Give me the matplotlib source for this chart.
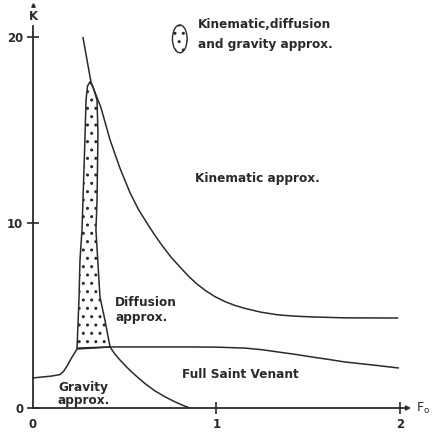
import matplotlib.pyplot as plt
from matplotlib.patches import Polygon, Ellipse

plt.rcParams['font.family'] = ['DejaVu Sans']
plt.rcParams['hatch.linewidth'] = 1.0

# Boundary between kinematic and diffusion regions
kin_F = [0.272, 0.316, 0.37, 0.42, 0.475, 0.529, 0.575, 0.621, 0.665, 0.708, 0.755, 0.801,
         0.85, 0.894, 0.94, 0.992, 1.05, 1.10, 1.155, 1.24, 1.335, 1.43, 1.52, 1.70, 1.99]
kin_K = [20.0, 17.57, 16.2, 14.45, 12.9, 11.6, 10.7, 9.97, 9.3, 8.7, 8.1, 7.6,
         7.08, 6.68, 6.33, 6.0, 5.72, 5.53, 5.37, 5.17, 5.02, 4.95, 4.91, 4.86, 4.85]

# Boundary of the full Saint Venant region (top)
sv_F = [0.0, 0.10, 0.147, 0.167, 0.185, 0.213, 0.24, 0.42, 0.883, 1.0, 1.155, 1.25, 1.335,
        1.43, 1.52, 1.61, 1.70, 1.85, 1.99]
sv_K = [1.62, 1.72, 1.80, 1.98, 2.25, 2.75, 3.18, 3.29, 3.29, 3.28, 3.23, 3.14, 3.02,
        2.89, 2.75, 2.62, 2.48, 2.32, 2.16]

# Gravity region boundary (right side)
grav_F = [0.42, 0.445, 0.474, 0.515, 0.556, 0.61, 0.665, 0.72, 0.774, 0.82, 0.856]
grav_K = [3.29, 2.92, 2.59, 2.16, 1.78, 1.32, 0.92, 0.60, 0.33, 0.13, 0.0]

# Dotted region: kinematic, diffusion and gravity approx.
loop_F = [0.24, 0.251, 0.256, 0.267, 0.283, 0.289, 0.297, 0.311, 0.327, 0.349, 0.354, 0.349,
          0.343, 0.365, 0.392, 0.42]
loop_K = [3.23, 5.98, 7.98, 9.6, 14.45, 16.6, 17.35, 17.6, 17.3, 16.6, 14.8, 11.2,
          9.6, 5.98, 4.74, 3.29]

x_ticks = [0, 1, 2]
y_ticks = [0, 10, 20]

ink = '#2a2a2a'
lw = 1.1

fig = plt.figure(figsize=(4.34, 4.32), dpi=100)
ax = fig.add_axes([0, 0, 1, 1])
ax.set_xlim(-0.1798, 2.1853)
ax.set_ylim(-1.294, 21.995)

ax.spines['top'].set_visible(False)
ax.spines['right'].set_visible(False)
ax.spines['left'].set_position(('data', 0))
ax.spines['bottom'].set_position(('data', 0))
ax.spines['left'].set_bounds(0, 20.6)
ax.spines['bottom'].set_bounds(0, 2.03)
for s in ['left', 'bottom']:
    ax.spines[s].set_linewidth(1.3)
    ax.spines[s].set_color(ink)

ax.set_xticks(x_ticks)
ax.set_yticks(y_ticks)
ax.set_xticklabels([str(v) for v in x_ticks], fontweight='bold', fontsize=8.5, color=ink)
ax.set_yticklabels([str(v) for v in y_ticks], fontweight='bold', fontsize=8.5, color=ink)
ax.tick_params(axis='x', direction='inout', length=8, width=1.2, pad=3, color=ink)
ax.tick_params(axis='y', direction='inout', length=8, width=1.2, pad=3, color=ink)
ax.xaxis.get_major_ticks()[0].tick1line.set_visible(False)

# axis arrows and labels
ax.annotate('', xy=(2.075, 0), xytext=(2.02, 0),
            arrowprops=dict(arrowstyle='-|>', color=ink, lw=1.0, mutation_scale=7))
ax.text(2.085, 0, r'F$_\mathregular{o}$', fontsize=9, color=ink, ha='left', va='center')
ax.text(0, 21.08, 'K', fontsize=8.5, fontweight='bold', color=ink, ha='center', va='center')
ax.plot([0], [21.75], marker='^', ms=2.5, color=ink, clip_on=False)

# dotted region
ax.add_patch(Polygon(list(zip(loop_F, loop_K)), closed=True, facecolor='none',
                     edgecolor=ink, linewidth=0, hatch='..'))
ax.add_patch(Polygon(list(zip(loop_F, loop_K)), closed=True, fill=False,
                     edgecolor=ink, linewidth=lw))

ax.plot(kin_F, kin_K, color=ink, lw=lw, solid_capstyle='butt')
ax.plot(sv_F, sv_K, color=ink, lw=lw)
ax.plot(grav_F, grav_K, color=ink, lw=lw)

# legend symbol
ax.add_patch(Ellipse((0.80, 19.9), 0.08, 1.5, facecolor='none',
                     edgecolor=ink, linewidth=0, hatch='..'))
ax.add_patch(Ellipse((0.80, 19.9), 0.08, 1.5, fill=False,
                     edgecolor=ink, linewidth=1.0))

tk = dict(fontsize=8.7, fontweight='bold', color=ink, ha='left', va='center')
ax.text(0.899, 20.65, 'Kinematic,diffusion', **tk)
ax.text(0.899, 19.62, 'and gravity approx.', **tk)
ax.text(0.883, 12.35, 'Kinematic approx.', **tk)
ax.text(0.447, 5.71, 'Diffusion', **tk)
ax.text(0.452, 4.9, 'approx.', **tk)
ax.text(0.136, 1.13, 'Gravity', **tk)
ax.text(0.136, 0.38, 'approx.', **tk)
ax.text(0.812, 1.78, 'Full Saint Venant', **tk)

fig.savefig('out.png', dpi=100)
